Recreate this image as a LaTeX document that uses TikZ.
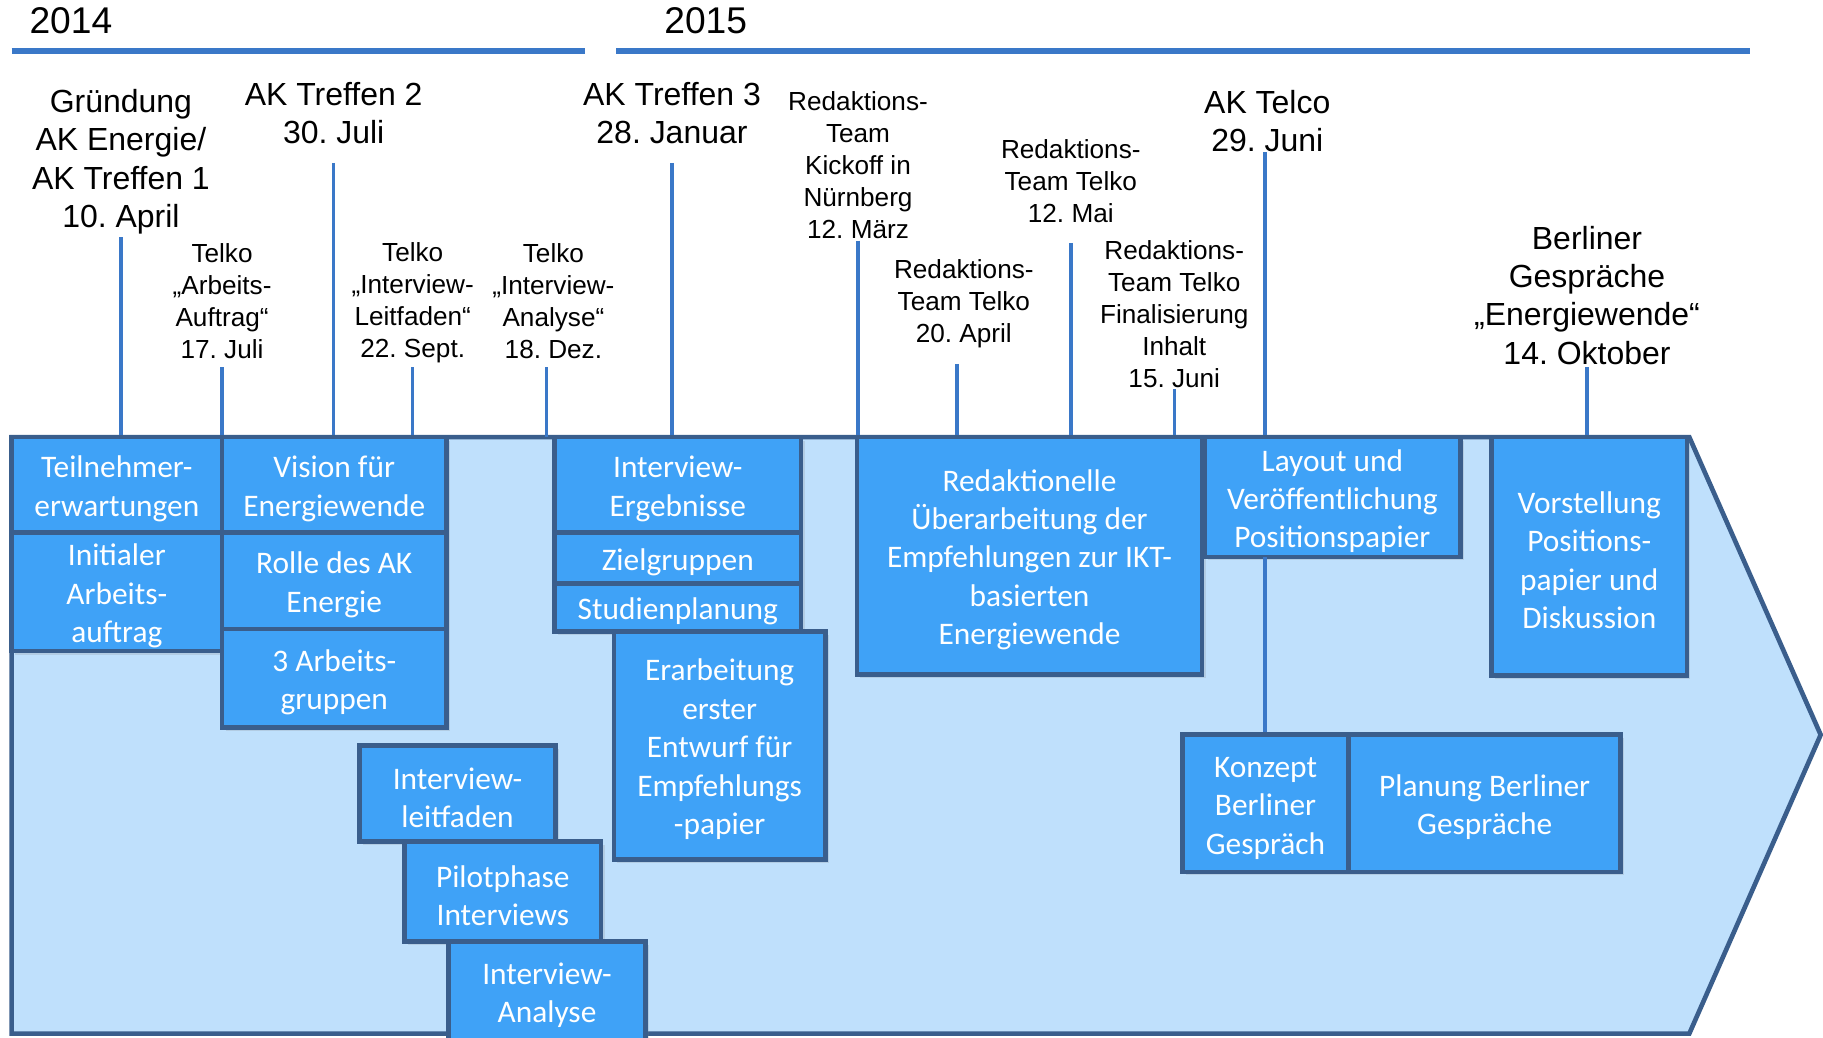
\documentclass[tikz,border=0pt]{standalone}
\usepackage{fontspec}
\setmainfont{Liberation Sans}
\newfontfamily\boxfont{Carlito}
\usetikzlibrary{shadows}
\definecolor{arrowfill}{RGB}{191,224,252}
\definecolor{edge}{RGB}{58,94,140}
\definecolor{boxfill}{RGB}{63,162,247}
\definecolor{tline}{RGB}{58,120,200}
\newcommand{\bxs}{\rule{0pt}{0.95em}}
\frenchspacing
\begin{document}
\begin{tikzpicture}[x=1pt,y=-1pt,
 bx/.style={draw=edge, line width=4pt, fill=boxfill, text=white, align=center,
   font=\boxfont\fontsize{27}{33}\selectfont, inner sep=0pt,
   drop shadow={opacity=0.2, shadow xshift=3pt, shadow yshift=-3pt}},
 big/.style={align=center, font=\frenchspacing\fontsize{27.5}{33}\selectfont, inner sep=0pt},
 small/.style={align=center, font=\frenchspacing\fontsize{22.5}{27.5}\selectfont, inner sep=0pt},
 yr/.style={font=\fontsize{32}{38}\selectfont, inner sep=0pt},
 tl/.style={draw=tline, line width=3pt},
 yl/.style={draw=tline, line width=5pt}]
\useasboundingbox (0,0) rectangle (1568,892);

% years
\node[yr] (y14) at (61,18) {2014};
\node[yr] (y15) at (607,18) {2015};
\coordinate (y14a) at (10,44); \coordinate (y14b) at (503,44);
\coordinate (y15a) at (530,44); \coordinate (y15b) at (1505,44);
\draw[yl] (y14a) -- (y14b);
\draw[yl] (y15a) -- (y15b);

% big arrow
\draw[draw=edge, fill=arrowfill, line width=4pt, line join=miter]
  (10,376) -- (1453,376) -- (1566,632) -- (1453,889) -- (10,889) -- cycle;
\coordinate (atop) at (10,376);

% event labels
\node[big] (e1) at (104,139) {Gründung\\AK Energie/\\AK Treffen 1\\10. April};
\node[small] (e2) at (191,259) {Telko\\„Arbeits-\\Auftrag“\\17. Juli};
\node[big] (e3) at (287,97.5) {AK Treffen 2\\30. Juli};
\node[small] (e4) at (355,260) {Telko\\„Interview-\\Leitfaden“\\22. Sept.};
\node[small] (e5) at (476,259) {Telko\\„Interview-\\Analyse“\\18. Dez.};
\node[big] (e6) at (578,97.5) {AK Treffen 3\\28. Januar};
\node[small] (e7) at (738,142) {Redaktions-\\Team\\Kickoff in\\Nürnberg\\12. März};
\node[small] (e8) at (829,261) {Redaktions-\\Team Telko\\20. April};
\node[small] (e9) at (921,156) {Redaktions-\\Team Telko\\12. Mai};
\node[small] (e10) at (1010,270) {Redaktions-\\Team Telko\\Finalisierung\\Inhalt\\15. Juni};
\node[big] (e11) at (1090,104) {AK Telco\\29. Juni};
\node[big] (e12) at (1365,254) {Berliner\\Gespräche\\„Energiewende“\\14. Oktober};

% timeline ticks
\coordinate (t1) at (104,204);
\coordinate (t2) at (191,316);
\coordinate (t3) at (287,140);
\coordinate (t4) at (355,316);
\coordinate (t5) at (470,316);
\coordinate (t6) at (578,140);
\coordinate (t7) at (738,207);
\coordinate (t8) at (823,313);
\coordinate (t9) at (921,209);
\coordinate (t10) at (1010,335);
\coordinate (t11) at (1088,131);
\coordinate (t12) at (1365,316);
\foreach \i in {1,...,12}{\draw[tl] (t\i) -- (t\i |- atop);}

% boxes
\node[bx, minimum width=181pt, minimum height=82pt] (b1) at (100.5,417) {\bxs Teilnehmer-\\erwartungen};
\node[bx, minimum width=181pt, minimum height=102pt] (b2) at (100.5,509) {\bxs Initialer\\Arbeits-\\auftrag};
\node[bx, minimum width=193pt, minimum height=82pt] (b3) at (287.5,417) {\bxs Vision für\\Energiewende};
\node[bx, minimum width=193pt, minimum height=83pt] (b4) at (287.5,499.5) {\bxs Rolle des AK\\Energie};
\node[bx, minimum width=193pt, minimum height=85pt] (b5) at (287.5,583.5) {\bxs 3 Arbeits-\\gruppen};
\node[bx, minimum width=169pt, minimum height=83pt] (b6) at (393.5,682.5) {\bxs Interview-\\leitfaden};
\node[bx, minimum width=169pt, minimum height=86pt] (b7) at (432.5,767) {\bxs Pilotphase\\Interviews};
\node[bx, minimum width=169pt, minimum height=85pt] (b8) at (470.5,852.5) {\bxs Interview-\\Analyse};
\node[bx, minimum width=212pt, minimum height=82pt] (b9) at (583,417) {\bxs Interview-\\Ergebnisse};
\node[bx, minimum width=212pt, minimum height=44pt] (b10) at (583,480) {\bxs Zielgruppen};
\node[bx, minimum width=212pt, minimum height=41pt] (b11) at (583,522.5) {\bxs Studienplanung};
\node[bx, minimum width=182pt, minimum height=196pt] (b12) at (619,641) {\bxs Erarbeitung\\erster\\Entwurf für\\Empfehlungs\\-papier};
\node[bx, minimum width=297pt, minimum height=204pt] (b13) at (885.5,478) {\bxs Redaktionelle\\Überarbeitung der\\Empfehlungen zur IKT-\\basierten\\Energiewende};
\node[bx, minimum width=220pt, minimum height=103pt] (b14) at (1146,427.5) {\bxs Layout und\\Veröffentlichung\\Positionspapier};
\node[bx, minimum width=168pt, minimum height=205pt] (b15) at (1367,478.5) {\bxs Vorstellung\\Positions-\\papier und\\Diskussion};

% connector Layout -> Konzept
\coordinate (kc) at (1088,479);
\draw[tl] (kc) -- (kc |- 0,632);

\node[bx, minimum width=143pt, minimum height=118pt] (b16) at (1088.5,691) {\bxs Konzept\\Berliner\\Gespräch};
\node[bx, minimum width=234pt, minimum height=118pt] (b17) at (1277,691) {\bxs Planung Berliner\\Gespräche};
\end{tikzpicture}
\end{document}
